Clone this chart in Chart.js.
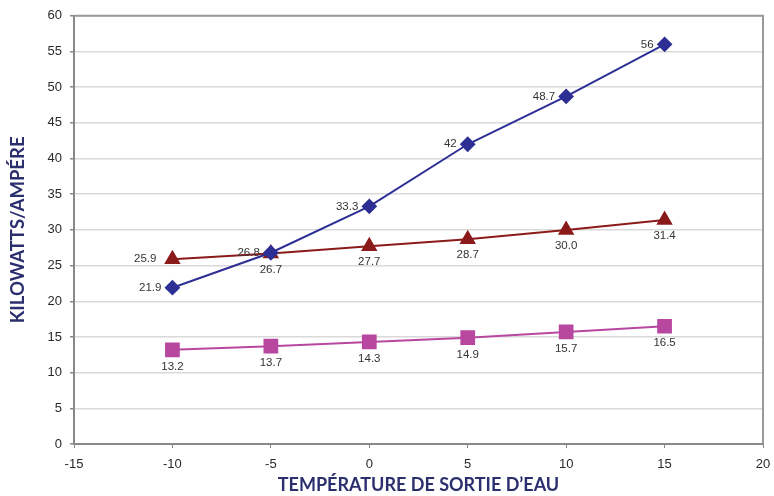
<!DOCTYPE html>
<html>
<head>
<meta charset="utf-8">
<script src="https://cdn.jsdelivr.net/npm/chart.js@4"></script>
<style>
  html, body { margin: 0; padding: 0; background: #fff; }
  #wrap { width: 774px; height: 496px; }
</style>
</head>
<body>
<div id="wrap"><canvas id="chart" width="774" height="496"></canvas></div>
<script>
const temps = [-10, -5, 0, 5, 10, 15];
const seriesDiamond = [21.9, 26.8, 33.3, 42, 48.7, 56];
const seriesTriangle = [25.9, 26.7, 27.7, 28.7, 30.0, 31.4];
const seriesSquare = [13.2, 13.7, 14.3, 14.9, 15.7, 16.5];
const triangleLabels = ["25.9", "26.7", "27.7", "28.7", "30.0", "31.4"];
const xTitle = "TEMPÉRATURE DE SORTIE D\u2019EAU";
const yTitle = "KILOWATTS/AMPÉRE";

const titleColor = "#2b2f6e";
const tickColor = "#2a2a2a";

function toPoints(values) {
  return values.map((v, i) => ({ x: temps[i], y: v }));
}

// draws the value next to every point, side chosen per dataset
const pointLabels = {
  id: "pointLabels",
  afterDatasetsDraw(chart) {
    const ctx = chart.ctx;
    ctx.save();
    ctx.font = "11.5px 'Liberation Sans', Arial, sans-serif";
    ctx.fillStyle = "#333";
    chart.data.datasets.forEach((ds, di) => {
      const meta = chart.getDatasetMeta(di);
      meta.data.forEach((pt, i) => {
        const text = ds.labelText ? ds.labelText[i] : String(ds.data[i].y);
        const side = ds.labelSide[i];
        ctx.textBaseline = "middle";
        if (side === "left") {
          ctx.textAlign = "right";
          ctx.fillText(text, pt.x - ds.labelGap, pt.y);
        } else {
          ctx.textAlign = "center";
          ctx.fillText(text, pt.x, pt.y + ds.labelGap);
        }
      });
    });
    ctx.restore();
  }
};

// gray frame on the top and right of the plot
const frame = {
  id: "frame",
  beforeDatasetsDraw(chart) {
    const a = chart.chartArea;
    const ctx = chart.ctx;
    ctx.save();
    ctx.strokeStyle = "#9a9a9a";
    ctx.lineWidth = 2;
    ctx.beginPath();
    ctx.moveTo(a.left, a.top);
    ctx.lineTo(a.right, a.top);
    ctx.lineTo(a.right, a.bottom);
    ctx.stroke();
    ctx.restore();
  }
};

new Chart(document.getElementById("chart"), {
  type: "line",
  data: {
    datasets: [
      {
        data: toPoints(seriesDiamond),
        borderColor: "#2e2f94",
        backgroundColor: "#2e2f94",
        borderWidth: 2,
        pointStyle: "rectRot",
        pointRadius: 6.5,
        labelSide: ["left", "left", "left", "left", "left", "left"],
        labelGap: 11
      },
      {
        data: toPoints(seriesTriangle),
        labelText: triangleLabels,
        borderColor: "#8b1a1a",
        backgroundColor: "#8b1a1a",
        borderWidth: 2,
        pointStyle: "triangle",
        pointRadius: 7.5,
        labelSide: ["left", "below", "below", "below", "below", "below"],
        labelGap: 16
      },
      {
        data: toPoints(seriesSquare),
        borderColor: "#b8489f",
        backgroundColor: "#b8489f",
        borderWidth: 2,
        pointStyle: "rect",
        pointRadius: 9,
        labelSide: ["below", "below", "below", "below", "below", "below"],
        labelGap: 17
      }
    ]
  },
  options: {
    responsive: false,
    animation: false,
    layout: { padding: { top: 15, right: 7, left: 0, bottom: 0 } },
    plugins: {
      legend: { display: false },
      tooltip: { enabled: false }
    },
    scales: {
      x: {
        type: "linear",
        min: -15,
        max: 20,
        ticks: {
          stepSize: 5,
          color: tickColor,
          font: { family: "'Liberation Sans', Arial, sans-serif", size: 13 },
          padding: 9
        },
        grid: {
          drawOnChartArea: false,
          drawTicks: true,
          tickLength: 4,
          tickColor: "#888"
        },
        border: { color: "#888", width: 2 },
        title: {
          display: true,
          text: xTitle,
          color: titleColor,
          font: { family: "Lato", weight: "bold", size: 18 },
          padding: { top: 0, bottom: 0 }
        },
        afterFit(scale) {
          scale.height = 52;
          scale.paddingLeft = 0;
          scale.paddingRight = 0;
        }
      },
      y: {
        min: 0,
        max: 60,
        ticks: {
          stepSize: 5,
          color: tickColor,
          font: { family: "'Liberation Sans', Arial, sans-serif", size: 13 },
          padding: 8
        },
        grid: {
          color: "#d9d9d9",
          lineWidth: 1.5,
          tickLength: 4,
          tickColor: "#888"
        },
        border: { color: "#888", width: 2 },
        title: {
          display: true,
          text: yTitle,
          color: titleColor,
          font: { family: "Lato", weight: "bold", size: 18.5 },
          padding: { top: 7, bottom: 0 }
        },
        afterFit(scale) { scale.width = 74; }
      }
    }
  },
  plugins: [pointLabels, frame]
});
</script>
</body>
</html>
